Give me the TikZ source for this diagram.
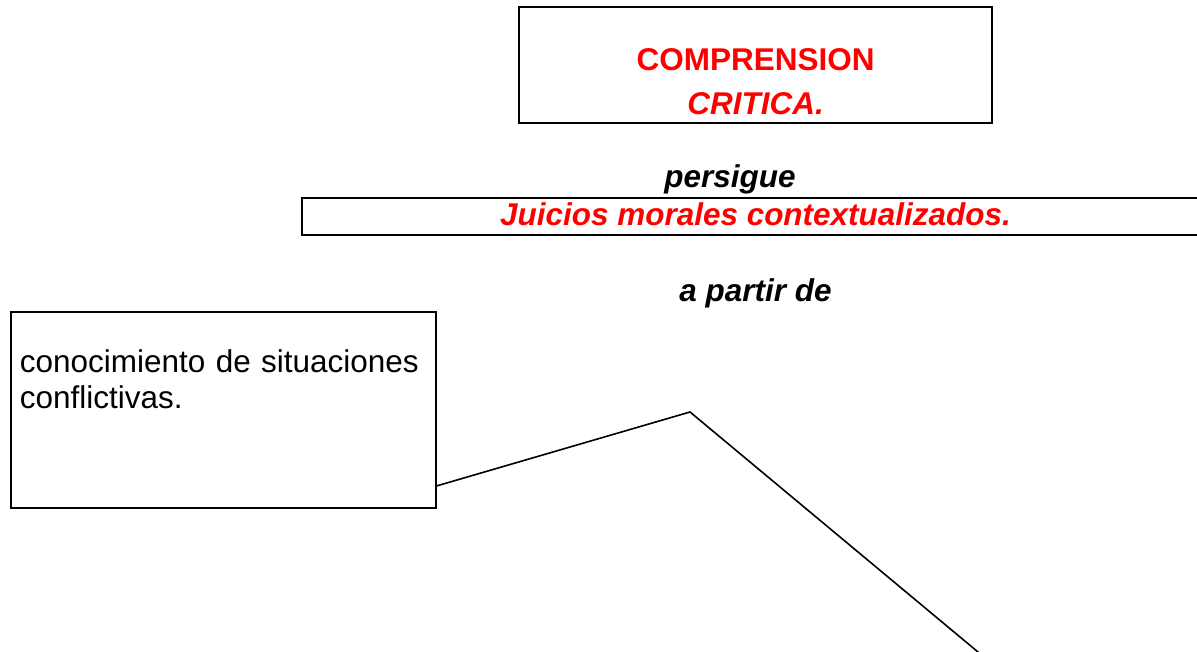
\documentclass[tikz,border=0pt]{standalone}
\usepackage{fontspec}
\setmainfont{Liberation Sans}
\begin{document}
\begin{tikzpicture}[x=0.75pt,y=-0.75pt]

        \useasboundingbox (0,0) rectangle (1197,652);

        \begin{scope}[every node/.style={inner sep=0pt, font=\fontsize{23.6pt}{28pt}\selectfont}]

          \begin{scope}[every node/.style={draw, line width=1.4pt, inner sep=0pt}]
            \node[align=center, minimum width=354.75pt, text height=80.25pt, text depth=6.3pt,
                  text=red, font=\fontsize{23.6pt}{32.7pt}\selectfont\bfseries] (comp) at (755.6,65)
                  {COMPRENSION\\\itshape CRITICA.};
            \node[minimum width=680.25pt, text height=20.5pt, text depth=7.7pt,
                  text=red, font=\fontsize{23.6pt}{28pt}\selectfont\bfseries\itshape] (juicios) at (755.5,216.5)
                  {Juicios morales contextualizados.};
            \node[anchor=north west, align=left, inner xsep=6.75pt, text width=305.25pt,
                  text height=45.75pt, text depth=101.25pt,
                  font=\fontsize{23.6pt}{26.6pt}\selectfont] (conoc) at (10,311)
                  {conocimiento de situaciones\\conflictivas.};
          \end{scope}

          \node[anchor=base, font=\fontsize{23.6pt}{28pt}\selectfont\bfseries\itshape] (persigue) at (730,188) {persigue};
          \node[anchor=base, font=\fontsize{23.6pt}{28pt}\selectfont\bfseries\itshape] (apartir) at (755.5,302) {a partir de};
        \end{scope}

        \coordinate (bend) at (690,412);
        \coordinate (tail) at (990,662);
        \draw[line width=1.2pt] ([yshift=17.25pt]conoc.south east) -- (bend) -- (tail);

      \end{tikzpicture}
\end{document}
